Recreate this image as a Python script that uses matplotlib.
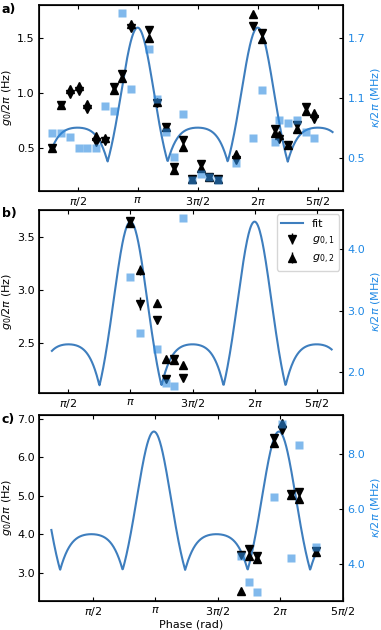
import numpy as np
import matplotlib
matplotlib.use("Agg")
import matplotlib.pyplot as plt

plt.rcParams['font.family'] = ['DejaVu Sans']
plt.rcParams['mathtext.fontset'] = 'dejavusans'

# ---------------- data (phases in units of pi) ----------------
# panel a
phase_a = [0.2875, 0.36, 0.435, 0.51, 0.58, 0.657, 0.727, 0.80, 0.873, 0.948,
           1.093, 1.1625, 1.235, 1.304, 1.38, 1.45, 1.527, 1.598, 1.673, 1.818,
           1.96, 2.035, 2.146, 2.18, 2.25, 2.327, 2.398, 2.47]
g01_a = [0.50, 0.89, 0.99, 1.02, 0.85, 0.55, 0.56, 1.05, 1.17, 1.59,
         1.58, 0.91, 0.69, 0.325, 0.57, 0.21, 0.355, 0.23, 0.21, 0.39,
         1.61, 1.55, 0.67, 0.575, 0.525, 0.705, 0.87, 0.76]
g02_a = [0.50, 0.89, 1.035, 1.065, 0.90, 0.605, 0.59, 1.025, 1.135, 1.63,
         1.50, 0.92, 0.69, 0.30, 0.51, 0.21, 0.315, 0.23, 0.21, 0.44,
         1.72, 1.49, 0.635, 0.62, 0.525, 0.675, 0.835, 0.815]
kappa_a = [0.744, 0.744, 0.71, 0.60, 0.60, 0.60, 1.02, 0.97, 1.95, 1.184,
           1.587, 1.084, 0.754, 0.504, 0.934, 0.277, 0.337, 0.304, 0.277, 0.444,
           0.70, 1.177, 0.66, 0.877, 0.844, 0.877, 0.76, 0.694]
err_a = 0.015

# panel b
phase_b = [1.0, 1.074, 1.2135, 1.284, 1.35, 1.423]
g01_b = [3.645, 2.87, 2.71, 2.157, 2.345, 2.17]
g02_b = [3.625, 3.186, 2.877, 2.35, 2.34, 2.29]
err01_b = [0.02, 0.06, 0.02, 0.02, 0.02, 0.02]
err02_b = [0.02, 0.05, 0.02, 0.02, 0.02, 0.02]
kappa_b = [3.55, 2.64, 2.38, 1.82, 1.78, 4.50]

# panel c
phase_c = [1.685, 1.752, 1.818, 1.952, 2.018, 2.085, 2.152, 2.285]
g01_c = [3.46, 3.61, 3.44, 6.50, 6.70, 5.04, 5.09, 3.56]
g02_c = [2.51, 3.44, 3.35, 6.37, 6.89, 5.01, 4.91, 3.54]
err_c = [0.04, 0.08, 0.06, 0.08, 0.05, 0.04, 0.08, 0.04]
kappa_c = [4.31, 3.35, 3.00, 6.44, 9.10, 4.24, 8.34, 4.64]

# fit parameters: baseline, main-peak height, side-lobe height, phase offset,
# plotted phase range (units of pi)
fit_a = dict(base=0.372, main=1.225, side=0.311, shift=0.0, start=0.296, stop=2.623)
fit_b = dict(base=2.095, main=1.547, side=0.39, shift=0.0, start=0.367, stop=2.621)
fit_c = dict(base=3.07, main=3.60, side=0.93, shift=-0.01, start=0.17, stop=2.285)

tick_pos = [0.5, 1.0, 1.5, 2.0, 2.5]
tick_lab = [r'$\pi/2$', r'$\pi$', r'$3\pi/2$', r'$2\pi$', r'$5\pi/2$']

# ---------------- styles ----------------
FIT_C = '#3E7EBE'
SQ_C = '#2E8BE0'
AX_BLUE = '#1E88E5'
FS = 8

def fit_curve(p):
    x = np.linspace(p['start'], p['stop'], 600) * np.pi
    c = np.cos(2 * (x - p['shift'] * np.pi))
    k = np.log(p['main'] / p['side']) / 2
    y = p['base'] + p['main'] * np.abs(c) * np.exp(k * (c - 1))
    return x, y


fig = plt.figure(figsize=(3.81, 6.30), dpi=100)
W = 381.0
H = 630.0

def make_ax(top, bottom, left=39, right=343.3):
    return fig.add_axes([left / W, 1 - bottom / H, (right - left) / W, (bottom - top) / H])

panels = [
    dict(box=(5, 191), xlim=(0.179, 2.7125), yl=(0.104, 1.804), yr=(0.167, 2.027),
         lt=[0.5, 1.0, 1.5], rt=[0.5, 1.1, 1.7], ph=phase_a, g1=g01_a, g2=g02_a,
         e1=err_a, e2=err_a, kap=kappa_a, fit=fit_a, lab='a)'),
    dict(box=(210, 393.3), xlim=(0.263, 2.715), yl=(2.023, 3.752), yr=(1.66, 4.632),
         lt=[2.5, 3.0, 3.5], rt=[2.0, 3.0, 4.0], ph=phase_b, g1=g01_b, g2=g02_b,
         e1=err01_b, e2=err02_b, kap=kappa_b, fit=fit_b, lab='b)'),
    dict(box=(415, 600.7), xlim=(0.071, 2.505), yl=(2.27, 7.10), yr=(2.68, 9.43),
         lt=[3.0, 4.0, 5.0, 6.0, 7.0], rt=[4.0, 6.0, 8.0], ph=phase_c, g1=g01_c, g2=g02_c,
         e1=err_c, e2=err_c, kap=kappa_c, fit=fit_c, lab='c)'),
]

for i, P in enumerate(panels):
    ax = make_ax(*P['box'])
    xf, yf = fit_curve(P['fit'])
    ax.plot(xf, yf, color=FIT_C, lw=1.5, label='fit', zorder=2)
    ph = np.array(P['ph']) * np.pi
    ax.errorbar(ph, P['g1'], yerr=P['e1'], fmt='v', color='black', ms=5.5,
                elinewidth=1.0, capsize=0, label=r'$g_{0,1}$', zorder=3)
    ax.errorbar(ph, P['g2'], yerr=P['e2'], fmt='^', color='black', ms=5.5,
                elinewidth=1.0, capsize=0, label=r'$g_{0,2}$', zorder=3)
    ax.set_xlim(P['xlim'][0] * np.pi, P['xlim'][1] * np.pi)
    ax.set_ylim(*P['yl'])
    ax.set_xticks(np.array(tick_pos) * np.pi)
    ax.set_xticklabels(tick_lab)
    ax.set_yticks(P['lt'])
    ax.set_yticklabels([f'{v:.1f}' for v in P['lt']])
    ax.tick_params(direction='in', top=True, right=False, labelsize=FS, length=3, pad=3)
    ax.set_ylabel(r'$g_0/2\pi$ (Hz)', fontsize=FS, labelpad=2)
    for s in ax.spines.values():
        s.set_linewidth(1.2)

    ax2 = ax.twinx()
    ax2.plot(ph, P['kap'], 's', color=SQ_C, alpha=0.6, ms=5.5, mec='none', zorder=4)
    ax2.set_ylim(*P['yr'])
    ax2.set_yticks(P['rt'])
    ax2.set_yticklabels([f'{v:.1f}' for v in P['rt']])
    ax2.tick_params(direction='in', labelsize=FS, length=3, pad=3, labelcolor=AX_BLUE)
    ax2.set_ylabel(r'$\kappa/2\pi$ (MHz)', fontsize=FS, color=AX_BLUE, labelpad=3)

    if i == 1:
        h, l = ax.get_legend_handles_labels()
        ax2.legend(h, l, loc='upper right', fontsize=FS, frameon=True,
                   borderaxespad=0.4, handlelength=2.0, labelspacing=0.5)
    if i == 2:
        ax.set_xlabel('Phase (rad)', fontsize=FS, labelpad=1)

    fig.text(2 / W, 1 - (P['box'][0] + 4) / H, P['lab'], fontsize=9, fontweight='bold',
             va='center', ha='left')

fig.savefig('out.png', dpi=100)
